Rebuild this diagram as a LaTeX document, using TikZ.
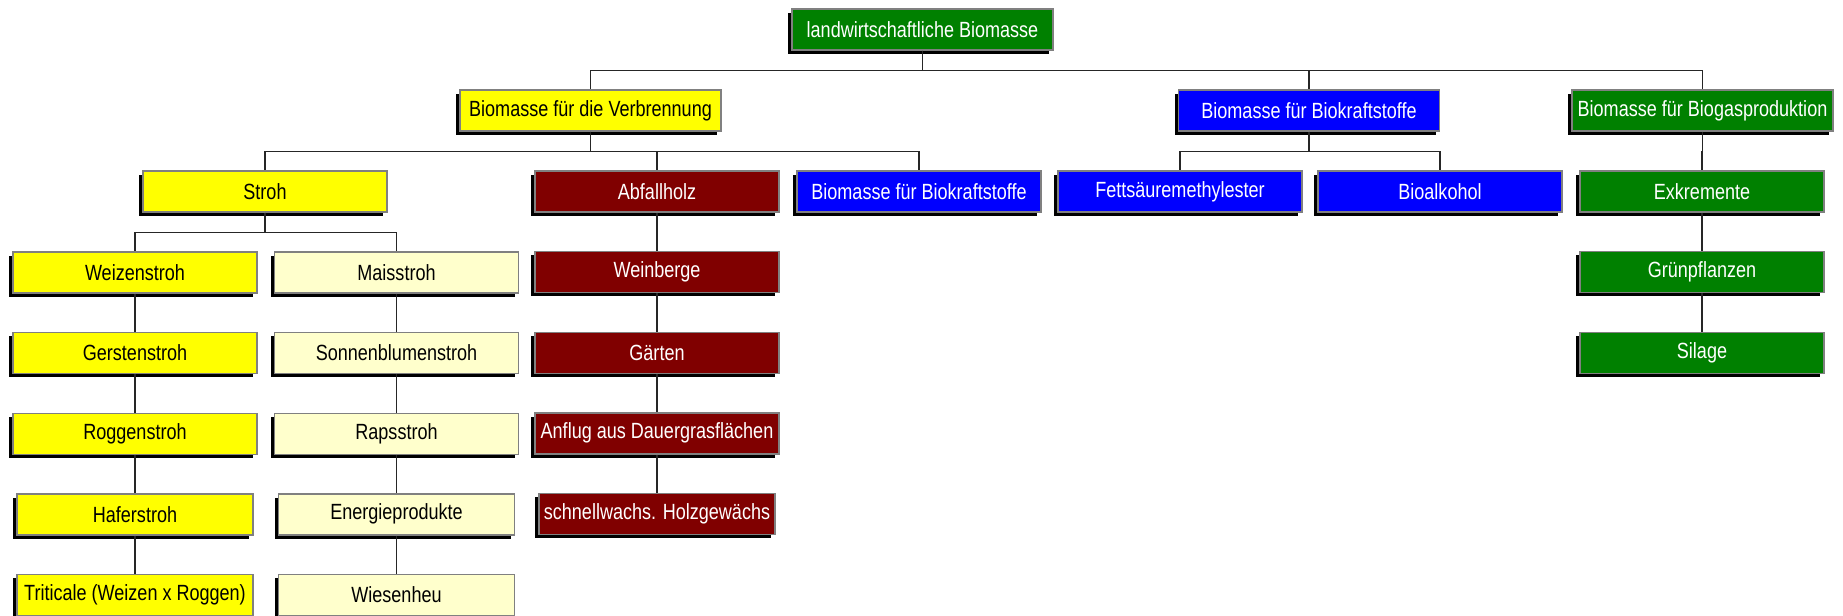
\documentclass[tikz,border=0pt]{standalone}
\usepackage{fontspec}
\setmainfont[FakeStretch=0.82]{Liberation Sans}
\usepackage{xcolor}
\definecolor{bmgreen}{RGB}{0, 128, 0}
\definecolor{bmyellow}{RGB}{255, 255, 0}
\definecolor{bmpale}{RGB}{255, 255, 204}
\definecolor{bmred}{RGB}{128, 0, 0}
\definecolor{bmblue}{RGB}{0, 0, 255}
\usepackage{tikz}
\usetikzlibrary{
    positioning,
    shadows
}

\begin{document}
\begin{tikzpicture}[x=0.5pt,y=-0.5pt,
    block/.style={
        rectangle, draw=gray, line width=0.7pt, minimum width=122pt, minimum height=20.5pt,
        inner sep=0pt, align=center, font=\fontsize{11}{13}\selectfont,
        drop shadow={shadow xshift=-1.8pt,shadow yshift=-1.9pt,fill=black,opacity=1}
    },
    wide/.style={minimum width=130.5pt},
    slim/.style={minimum width=118pt},
    link/.style={line width=0.6pt,black!85}
]
    \useasboundingbox (0,0) rectangle (1843,616);

    % Top levels
    \node[block,wide,fill=bmgreen,text=white] (land) at (922.5,29.5) {landwirtschaftliche Biomasse};
    \node[block,wide,fill=bmyellow] (verb) at (590.5,110.5) {Biomasse für die Verbrennung};
    \node[block,wide,fill=bmblue,text=white] (bkA) at (1309,110.5) {Biomasse für Biokraftstoffe};
    \node[block,wide,fill=bmgreen,text=white] (gas) at (1702.5,110.5) {Biomasse für Biogasproduktion};

    \node[block,fill=bmyellow] (stroh) at (265,191.5) {Stroh};
    \node[block,fill=bmred,text=white] (abfall) at (657,191.5) {Abfallholz};
    \node[block,fill=bmblue,text=white] (bkB) at (919,191.5) {Biomasse für Biokraftstoffe};
    \node[block,fill=bmblue,text=white] (fett) at (1180,191.5) {Fettsäuremethylester};
    \node[block,fill=bmblue,text=white] (alk) at (1440,191.5) {Bioalkohol};
    \node[block,fill=bmgreen,text=white] (exkr) at (1702,191.5) {Exkremente};

    % Straw columns
    \node[block,fill=bmyellow] (weizen) at (135,272.5) {Weizenstroh};
    \node[block,fill=bmyellow,below=19.1pt of weizen] (gerste) {Gerstenstroh};
    \node[block,fill=bmyellow,below=19.1pt of gerste] (roggen) {Roggenstroh};
    \node[block,slim,fill=bmyellow,below=19.1pt of roggen] (hafer) {Haferstroh};
    \node[block,slim,fill=bmyellow,below=19.1pt of hafer] (triti) {Triticale (Weizen x Roggen)};

    \node[block,fill=bmpale] (mais) at (396.5,272.5) {Maisstroh};
    \node[block,fill=bmpale,below=19.1pt of mais] (sonne) {Sonnenblumenstroh};
    \node[block,fill=bmpale,below=19.1pt of sonne] (raps) {Rapsstroh};
    \node[block,slim,fill=bmpale,below=19.1pt of raps] (energie) {Energieprodukte};
    \node[block,slim,fill=bmpale,below=19.1pt of energie] (heu) {Wiesenheu};

    % Waste wood
    \node[block,fill=bmred,text=white,below=19.1pt of abfall] (wein) {Weinberge};
    \node[block,fill=bmred,text=white,below=19.1pt of wein] (garten) {Gärten};
    \node[block,fill=bmred,text=white,below=19.1pt of garten] (anflug) {Anflug aus Dauergrasflächen};
    \node[block,slim,fill=bmred,text=white,below=19.1pt of anflug] (schnell) {schnellwachs. Holzgewächs};

    % Biogas
    \node[block,fill=bmgreen,text=white,below=19.1pt of exkr] (gruen) {Grünpflanzen};
    \node[block,fill=bmgreen,text=white,below=19.1pt of gruen] (silage) {Silage};

    % Connectors
    \foreach \a/\b in {land/verb,land/bkA,land/gas,verb/stroh,verb/abfall,verb/bkB,
        bkA/fett,bkA/alk,gas/exkr,stroh/weizen,stroh/mais,
        weizen/gerste,gerste/roggen,roggen/hafer,hafer/triti,
        mais/sonne,sonne/raps,raps/energie,energie/heu,
        abfall/wein,wein/garten,garten/anflug,anflug/schnell,
        exkr/gruen,gruen/silage} {
        \draw[link] (\a.south) -- ++(0,-10pt) -| (\b.north);
    }
\end{tikzpicture}
\end{document}
